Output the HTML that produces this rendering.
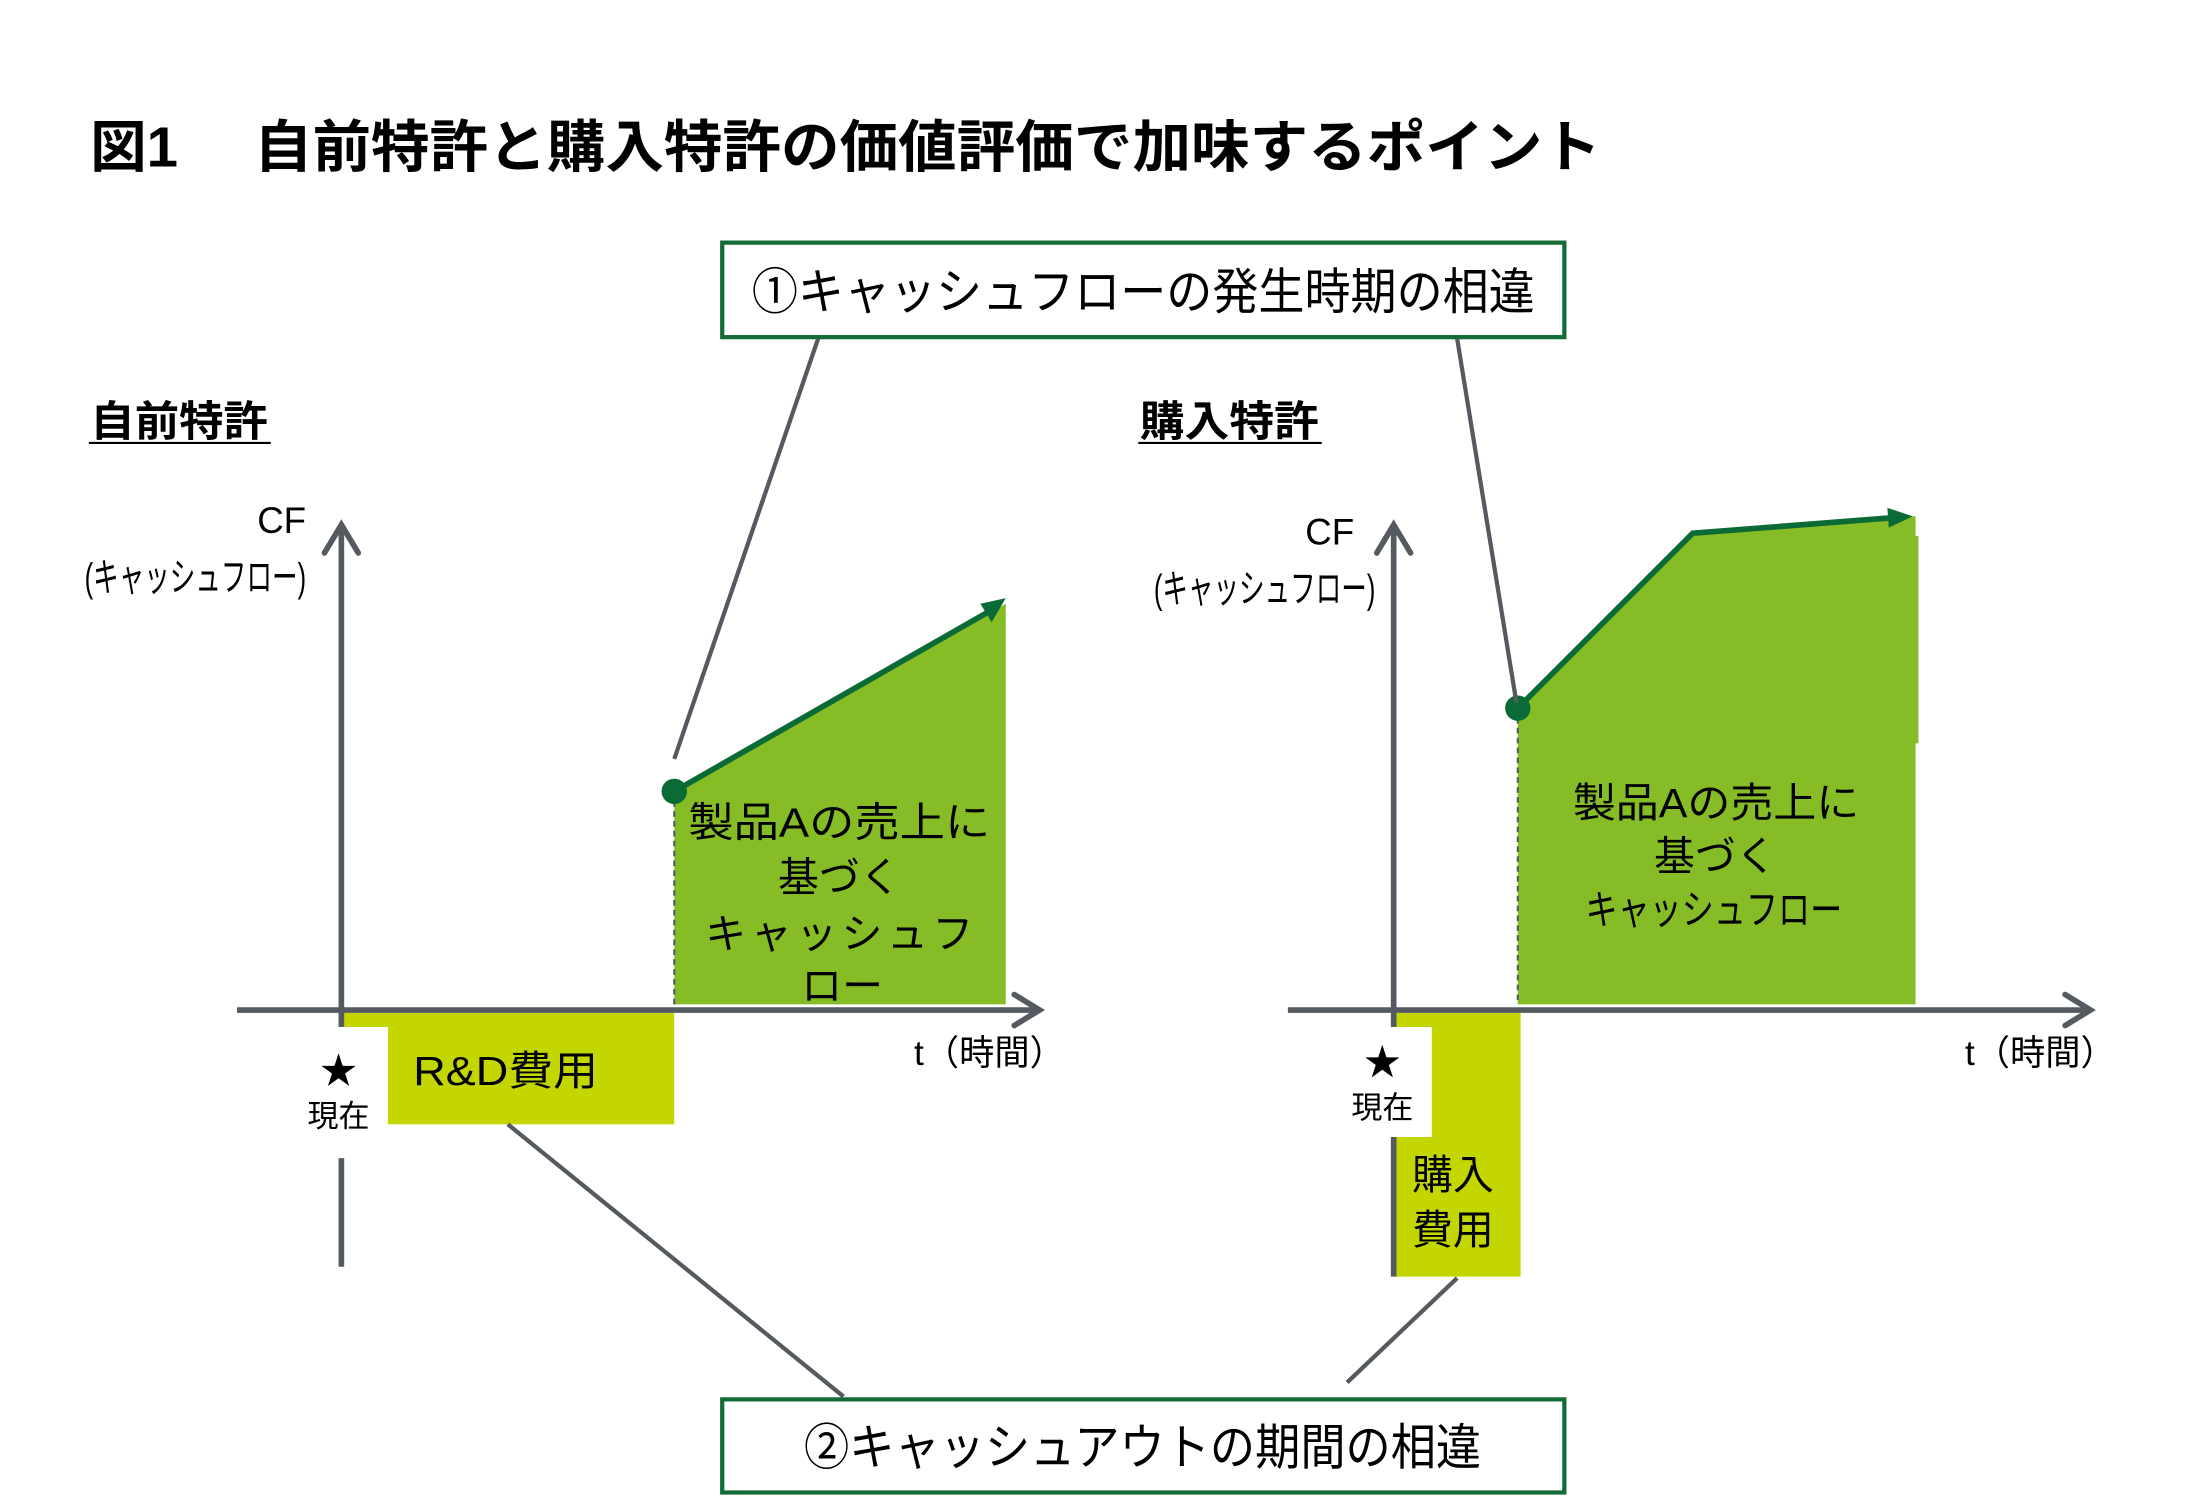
<!DOCTYPE html>
<html><head><meta charset="utf-8"><style>
html,body{margin:0;padding:0;background:#fff;}
svg{display:block;}
text{font-family:"Liberation Sans","Noto Sans CJK JP",sans-serif;fill:#000;}
</style></head><body>
<svg width="2209" height="1509" viewBox="0 0 1566 1069.7" preserveAspectRatio="none" xmlns="http://www.w3.org/2000/svg">
<rect width="1566" height="1070" fill="#fff"/>
<!-- Title -->
<text x="64" y="118" font-size="40" font-weight="bold">図1</text>
<text x="180" y="118" font-size="40" font-weight="bold" textLength="955" lengthAdjust="spacingAndGlyphs">自前特許と購入特許の価値評価で加味するポイント</text>

<!-- Boxes -->
<rect x="512" y="172" width="597" height="67" fill="#fff" stroke="#136b37" stroke-width="3"/>
<text x="533" y="219" font-size="35" textLength="555" lengthAdjust="spacingAndGlyphs">①キャッシュフローの発生時期の相違</text>
<rect x="512" y="992" width="597" height="66" fill="#fff" stroke="#136b37" stroke-width="3"/>
<text x="570" y="1038" font-size="35" textLength="480" lengthAdjust="spacingAndGlyphs">②キャッシュアウトの期間の相違</text>

<!-- Section headings -->
<text x="64" y="309" font-size="30" font-weight="bold" textLength="126" lengthAdjust="spacingAndGlyphs">自前特許</text>
<line x1="63" y1="314" x2="192" y2="314" stroke="#000" stroke-width="1.5"/>
<text x="808" y="309" font-size="30" font-weight="bold" textLength="127" lengthAdjust="spacingAndGlyphs">購入特許</text>
<line x1="807" y1="314" x2="937" y2="314" stroke="#000" stroke-width="1.5"/>

<!-- LEFT CHART -->
<polygon points="478,561 713,428 713,712 478,712" fill="#86bc25"/>
<rect x="242" y="718" width="236" height="79" fill="#c3d600"/>
<line x1="242" y1="374" x2="242" y2="898" stroke="#555960" stroke-width="4"/>
<rect x="205" y="728" width="70" height="93" fill="#fff"/>
<line x1="168" y1="716" x2="736" y2="716" stroke="#555960" stroke-width="4"/>
<polyline points="230,392 242,372 254,392" fill="none" stroke="#555960" stroke-width="4" stroke-linecap="round"/>
<polyline points="719,705 737,716 719,727" fill="none" stroke="#555960" stroke-width="4" stroke-linecap="round"/>
<line x1="478" y1="561" x2="478" y2="712" stroke="#555960" stroke-width="1.5" stroke-dasharray="4,3"/>
<line x1="478" y1="561" x2="702" y2="433" stroke="#0b6b36" stroke-width="4"/>
<polygon points="713,424 695,428 703,441" fill="#0b6b36"/>
<circle cx="478" cy="561" r="9" fill="#0b6b36"/>
<line x1="580" y1="240" x2="478" y2="538" stroke="#555960" stroke-width="3"/>
<line x1="360" y1="797" x2="598" y2="990" stroke="#555960" stroke-width="3"/>
<text x="217" y="378" font-size="26" text-anchor="end">CF</text>
<text x="60" y="419" font-size="28" textLength="157" lengthAdjust="spacingAndGlyphs">(キャッシュフロー)</text>
<text x="240" y="768" font-size="26" text-anchor="middle">★</text>
<text x="240" y="799" font-size="22" text-anchor="middle">現在</text>
<text x="293" y="769" font-size="29" textLength="131" lengthAdjust="spacingAndGlyphs">R&amp;D費用</text>
<text x="488" y="593" font-size="29" textLength="214" lengthAdjust="spacingAndGlyphs">製品Aの売上に</text>
<text x="595" y="632" font-size="29" text-anchor="middle">基づく</text>
<text x="500" y="672" font-size="29" textLength="190" lengthAdjust="spacing">キャッシュフ</text>
<text x="597" y="709" font-size="29" text-anchor="middle">ロー</text>
<text x="648" y="755" font-size="25">t（時間）</text>

<!-- RIGHT CHART -->
<polygon points="1076,502 1200,378 1358,366 1358,380 1360,380 1360,527 1358,527 1358,712 1076,712" fill="#86bc25"/>
<rect x="988" y="718" width="90" height="187" fill="#c3d600"/>
<line x1="988" y1="374" x2="988" y2="905" stroke="#555960" stroke-width="4"/>
<rect x="952" y="728" width="63" height="78" fill="#fff"/>
<line x1="913" y1="716" x2="1481" y2="716" stroke="#555960" stroke-width="4"/>
<polyline points="976,392 988,372 1000,392" fill="none" stroke="#555960" stroke-width="4" stroke-linecap="round"/>
<polyline points="1464,705 1482,716 1464,727" fill="none" stroke="#555960" stroke-width="4" stroke-linecap="round"/>
<line x1="1076" y1="502" x2="1076" y2="712" stroke="#555960" stroke-width="1.5" stroke-dasharray="4,3"/>
<polyline points="1076,502 1200,378 1342,367" fill="none" stroke="#0b6b36" stroke-width="4"/>
<polygon points="1356,366 1338,360 1339,374" fill="#0b6b36"/>
<circle cx="1076" cy="502" r="9" fill="#0b6b36"/>
<line x1="1033" y1="240" x2="1075" y2="498" stroke="#555960" stroke-width="3"/>
<line x1="1033" y1="906" x2="955" y2="980" stroke="#555960" stroke-width="3"/>
<text x="960" y="386" font-size="26" text-anchor="end">CF</text>
<text x="818" y="427" font-size="28" textLength="157" lengthAdjust="spacingAndGlyphs">(キャッシュフロー)</text>
<text x="980" y="762" font-size="26" text-anchor="middle">★</text>
<text x="980" y="793" font-size="22" text-anchor="middle">現在</text>
<text x="1001" y="843" font-size="29">購入</text>
<text x="1001" y="882" font-size="29">費用</text>
<text x="1115" y="579" font-size="29" textLength="203" lengthAdjust="spacingAndGlyphs">製品Aの売上に</text>
<text x="1216" y="617" font-size="29" text-anchor="middle">基づく</text>
<text x="1124" y="655" font-size="29" textLength="182" lengthAdjust="spacingAndGlyphs">キャッシュフロー</text>
<text x="1393" y="755" font-size="25">t（時間）</text>
</svg>
</body></html>
